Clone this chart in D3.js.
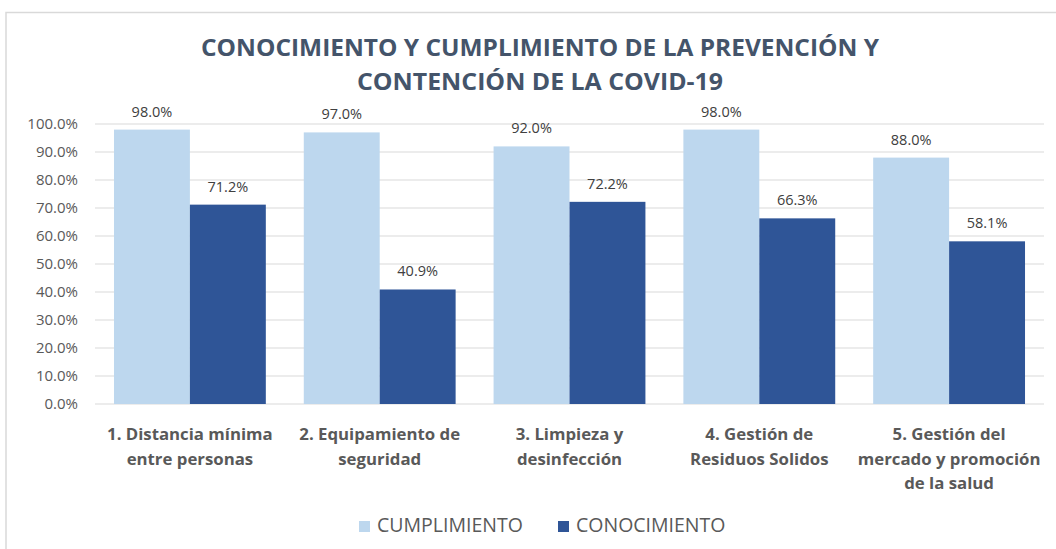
<!DOCTYPE html>
<html>
<head>
<meta charset="utf-8">
<script src="https://cdn.jsdelivr.net/npm/d3@7"></script>
<style>
  body { margin: 0; background: #fff; }
  svg { display: block; }
</style>
</head>
<body>
<script>
// chart data
const categories = [
    ['1. Distancia mínima', 'entre personas'],
    ['2. Equipamiento de', 'seguridad'],
    ['3. Limpieza y', 'desinfección'],
    ['4. Gestión de', 'Residuos Solidos'],
    ['5. Gestión del', 'mercado y promoción', 'de la salud']
];
const seriesNames = ['CUMPLIMIENTO', 'CONOCIMIENTO'];
const cumplimiento = [0.98, 0.97, 0.92, 0.98, 0.88];
const conocimiento = [0.712, 0.409, 0.722, 0.663, 0.581];
const yTicks = [0, 0.1, 0.2, 0.3, 0.4, 0.5, 0.6, 0.7, 0.8, 0.9, 1.0];
const colors = ['#BDD7EE', '#2F5597'];
const titleLines = ['CONOCIMIENTO Y CUMPLIMIENTO DE LA PREVENCIÓN Y', 'CONTENCIÓN DE LA COVID-19'];

const W = 1056, H = 549;
const margin = { left: 95, right: 12, top: 124, bottom: 145 };
const font = "'Open Sans', 'Liberation Sans', sans-serif";
const textColor = '#595959';

const svg = d3.select('body').append('svg').attr('width', W).attr('height', H);

// chart frame (only top and left edges show)
svg.append('path')
    .attr('d', 'M6,549 V12.5 H1056')
    .attr('fill', 'none').attr('stroke', '#d9d9d9').attr('stroke-width', 1.5);

// title
const title = svg.append('g')
    .attr('font-family', font).attr('font-weight', 700).attr('font-size', 22.5)
    .attr('fill', '#44546A').attr('text-anchor', 'middle');
titleLines.forEach((t, i) => {
    title.append('text').attr('x', 540).attr('y', 56 + i * 34)
        .attr('textLength', i == 0 ? 678 : 366).attr('lengthAdjust', 'spacingAndGlyphs')
        .text(t);
});

const x = d3.scaleBand()
    .domain(d3.range(categories.length))
    .range([margin.left, W - margin.right])
    .paddingInner(0.2).paddingOuter(0.1);
const xs = d3.scaleBand().domain(seriesNames).range([0, x.bandwidth()]);
const y = d3.scaleLinear().domain([0, 1]).range([H - margin.bottom, margin.top]);

// gridlines
svg.append('g')
    .selectAll('line').data(yTicks).join('line')
    .attr('x1', margin.left).attr('x2', W - margin.right)
    .attr('y1', d => y(d)).attr('y2', d => y(d))
    .attr('stroke', '#d9d9d9').attr('stroke-width', 1.2);

// y axis labels
const yAxis = svg.append('g')
    .attr('transform', `translate(${margin.left - 17},0)`)
    .call(d3.axisLeft(y).tickValues(yTicks).tickFormat(d3.format('.1%')).tickSize(0).tickPadding(0));
yAxis.select('.domain').remove();
yAxis.selectAll('text')
    .attr('font-family', font).attr('font-size', 15).attr('fill', textColor);

// bars
const seriesData = [cumplimiento, conocimiento];
seriesData.forEach((vals, si) => {
    const g = svg.append('g');
    g.selectAll('rect').data(vals).join('rect')
        .attr('x', (d, i) => x(i) + xs(seriesNames[si]))
        .attr('width', xs.bandwidth())
        .attr('y', d => y(d))
        .attr('height', d => y(0) - y(d))
        .attr('fill', colors[si]);
    g.selectAll('text').data(vals).join('text')
        .attr('x', (d, i) => x(i) + xs(seriesNames[si]) + xs.bandwidth() / 2)
        .attr('y', d => y(d) - 13)
        .attr('text-anchor', 'middle')
        .attr('font-family', font).attr('font-size', 14.5)
        .attr('fill', '#404040')
        .text(d => d3.format('.1%')(d));
});

// category labels
const cat = svg.append('g')
    .attr('font-family', font).attr('font-weight', 700).attr('font-size', 16.8)
    .attr('fill', textColor).attr('text-anchor', 'middle');
categories.forEach((lines, i) => {
    const t = cat.append('text').attr('x', x(i) + x.bandwidth() / 2).attr('y', 440);
    lines.forEach((l, j) => {
        t.append('tspan').attr('x', x(i) + x.bandwidth() / 2).attr('dy', j == 0 ? 0 : 24.5).text(l);
    });
});

// legend
const legend = svg.append('g')
    .attr('font-family', font).attr('font-size', 19.5).attr('fill', textColor);
const legendX = [359, 558];
seriesNames.forEach((s, i) => {
    legend.append('rect').attr('x', legendX[i]).attr('y', 521)
        .attr('width', 11).attr('height', 11).attr('fill', colors[i]);
    legend.append('text').attr('x', legendX[i] + 18).attr('y', 532).text(s);
});
</script>
</body>
</html>
